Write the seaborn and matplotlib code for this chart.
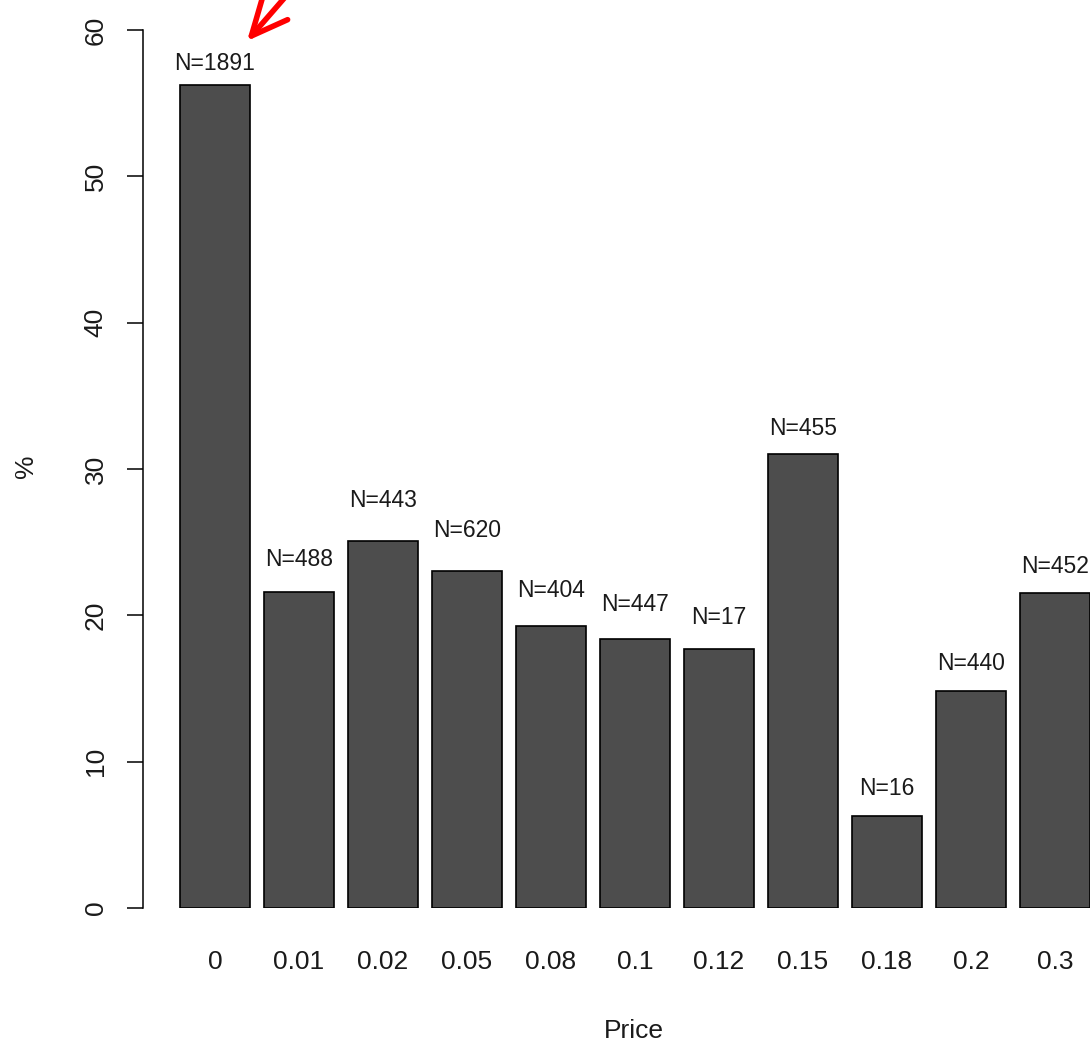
import pandas as pd
from matplotlib import pyplot as plt
import seaborn as sns

prices = ['0', '0.01', '0.02', '0.05', '0.08', '0.1', '0.12', '0.15', '0.18', '0.2', '0.3']
percents = [56.25, 21.6, 25.1, 23.0, 19.3, 18.4, 17.7, 31.0, 6.3, 14.8, 21.5]
counts = [1891, 488, 443, 620, 404, 447, 17, 455, 16, 440, 452]
# height of the N= labels (baseline), in % units
label_y = [57.3, 23.4, 27.4, 25.35, 21.25, 20.3, 19.4, 32.3, 7.7, 16.25, 22.9]
y_ticks = [0, 10, 20, 30, 40, 50, 60]

sns.set_style('white')
plt.rcParams['font.family'] = ['Liberation Sans', 'DejaVu Sans']

df = pd.DataFrame({'Price': prices, 'pct': percents, 'n': counts})

W, H = 1090, 1043
fig = plt.figure(figsize=(W / 100, H / 100), dpi=100)
# axes: y-axis line at x=143px, y=0 at 908px, y=60 at 30px
ax = fig.add_axes([143 / W, (H - 908) / H, (W - 143) / W, (908 - 30) / H])

sns.barplot(data=df, x='Price', y='pct', order=prices, color='#4D4D4D',
            saturation=1, width=70 / 84, edgecolor='black', linewidth=1.2,
            ax=ax)

ax.set_xlim((143 - 215) / 84, (1090 - 215) / 84)
ax.set_ylim(0, 60)

for i, (ly, n) in enumerate(zip(label_y, counts)):
    ax.text(i, ly, f'N={n}', ha='center', va='baseline', fontsize=16.5,
            color='#1a1a1a', clip_on=False)

sns.despine(ax=ax, bottom=True)
ax.spines['left'].set_bounds(0, 60)
ax.spines['left'].set_linewidth(1.1)
ax.spines['left'].set_color('black')

ax.set_yticks(y_ticks)
ax.set_yticklabels([str(t) for t in y_ticks], rotation=90, va='center')
ax.tick_params(axis='y', length=11.5, width=1.1, direction='out', pad=14,
               labelsize=19, colors='black', labelcolor='#1a1a1a', left=True)
ax.tick_params(axis='x', length=0, pad=30, labelsize=19, labelcolor='#1a1a1a')

ax.set_xlabel('')
ax.set_ylabel('')
fig.text(634 / W, (H - 1038) / H, 'Price', ha='center', va='baseline',
         fontsize=19, color='#1a1a1a')
fig.text(26 / W, (H - 466) / H, '%', ha='center', va='center', rotation=90,
         fontsize=19, color='#1a1a1a')

# red arrow pointing at the first label
ax.annotate('', xy=(247, H - 41), xycoords='figure pixels',
            xytext=(300, H + 20), textcoords='figure pixels',
            arrowprops=dict(arrowstyle='->,head_length=1.3,head_width=0.6',
                            color='#ff0000', lw=4, mutation_scale=20,
                            shrinkA=0, shrinkB=0))

plt.savefig('out.png', dpi=100)
